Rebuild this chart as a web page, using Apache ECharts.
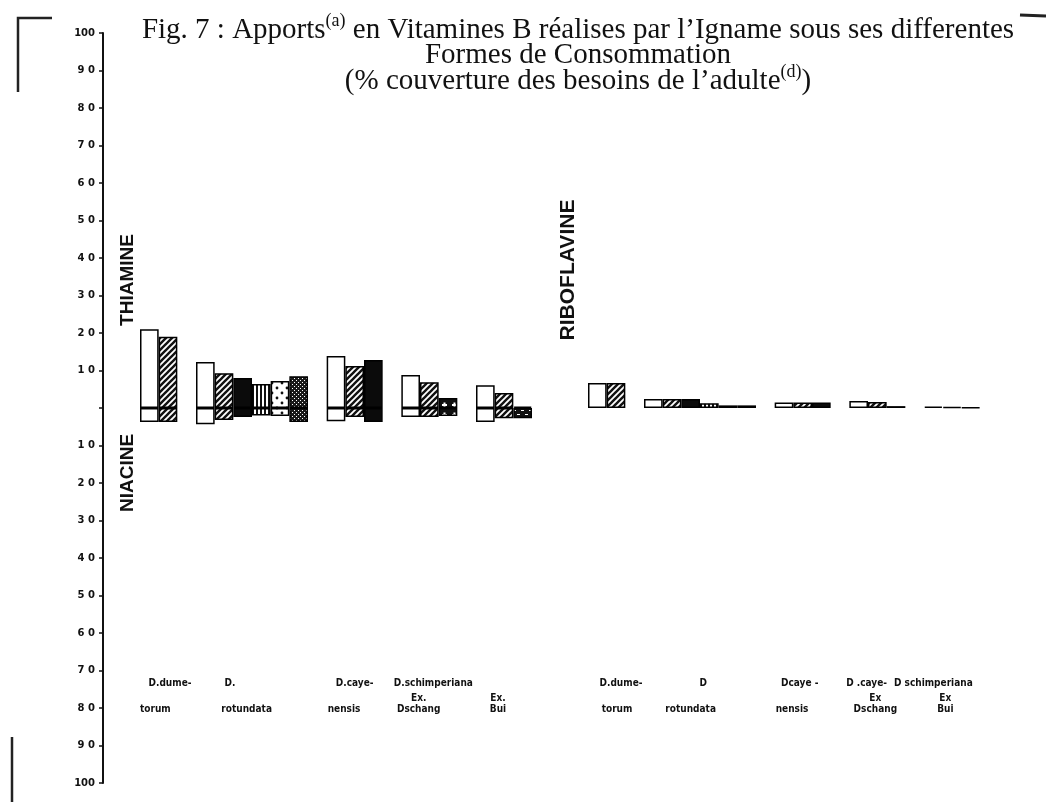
<!DOCTYPE html>
<html><head><meta charset="utf-8">
<script src="https://cdn.jsdelivr.net/npm/echarts@6/dist/echarts.min.js"></script>
<style>html,body{margin:0;padding:0;background:#fff}#c{width:1046px;height:802px}</style>
</head><body><div id="c"></div>
<script>
// ---- data (% of adult requirement) ----
const groupNames = ['D. dumetorum', 'D. rotundata', 'D. cayenensis', 'D. schimperiana Ex. Dschang', 'D. schimperiana Ex. Bui'];
// consumption-form index of each bar in each group (drives the fill pattern)
const groupForms = [[0, 1], [0, 1, 2, 3, 4, 5], [0, 1, 2], [0, 1, 6], [0, 1, 7]];
const thiamine = [[21, 19], [12.3, 9.3, 8, 6.4, 7.2, 8.5], [13.9, 11.2, 12.8], [8.8, 6.9, 2.7], [6.1, 4, 0.4]];
const niacine = [[3.7, 3.7], [4.3, 3.2, 2.4, 2, 2.1, 3.7], [3.5, 2.4, 3.7], [2.4, 2.4, 2.1], [3.7, 2.7, 2.7]];
const riboflavine = [[6.7, 6.7], [2.4, 2.4, 2.4, 1.3, 0.7, 0.7], [1.5, 1.5, 1.5], [1.9, 1.6, 0.5], [0.4, 0.3, 0.2]];
const yTicks = [-100, -90, -80, -70, -60, -50, -40, -30, -20, -10, 0, 10, 20, 30, 40, 50, 60, 70, 80, 90, 100];
// axis label texts, two printed lines per group
const leftLine1 = ['D.dume-', 'D.', 'D.caye-', 'D.schimperiana', ''];
const leftLine2 = ['torum', 'rotundata', 'nensis', 'Ex.\nDschang', 'Ex.\nBui'];
const rightLine1 = ['D.dume-', 'D', 'Dcaye -', 'D .caye-', 'D schimperiana'];
const rightLine2 = ['torum', 'rotundata', 'nensis', 'Ex\nDschang', 'Ex\nBui'];

// ---- layout constants (slot offset inside group, pixel nudge) ----
const line1Off = [1, 1, 1, 1, 0], line1Nudge = [2, 6, 0, 4, 0];
const line2Off = [0, 2, 0, 0, 1], line2Nudge = [6, 4, 8, 8, -6];
const rLine1Off = [1, 3, 1, 0, 0], rLine1Nudge = [5, -6, -3, 8, 0];
const rLine2Off = [1, 2, 0, 1, 0], rLine2Nudge = [1, 0, 8, -2, 12];

// ---- fill patterns ----
function pat(kind) {
  if (kind === 0) return '#ffffff';
  if (kind === 2) return '#0b0b0b';
  const c = document.createElement('canvas');
  let s = 6;
  if (kind === 3) s = 4; if (kind === 4) s = 10; if (kind === 5) s = 4; if (kind === 6) s = 10; if (kind === 7) s = 8;
  c.width = s; c.height = s;
  const g = c.getContext('2d');
  if (kind === 1) {
    g.fillStyle = '#fff'; g.fillRect(0, 0, s, s);
    g.strokeStyle = '#111'; g.lineWidth = 2.4;
    [[0, s, s, 0], [-2, 2, 2, -2], [s - 2, s + 2, s + 2, s - 2]].forEach(l => { g.beginPath(); g.moveTo(l[0], l[1]); g.lineTo(l[2], l[3]); g.stroke(); });
  } else if (kind === 3) {
    g.fillStyle = '#fff'; g.fillRect(0, 0, s, s);
    g.fillStyle = '#111'; g.fillRect(0, 0, 2, s);
  } else if (kind === 4) {
    g.fillStyle = '#fff'; g.fillRect(0, 0, s, s);
    g.fillStyle = '#111';
    [[2, 3], [7, 8]].forEach(p => { g.beginPath(); g.arc(p[0], p[1], 1.4, 0, Math.PI * 2); g.fill(); });
  } else if (kind === 5) {
    g.fillStyle = '#1a1a1a'; g.fillRect(0, 0, s, s);
    g.fillStyle = '#fff'; g.fillRect(0, 0, 1, 1); g.fillRect(2, 2, 1, 1);
  } else if (kind === 6) {
    g.fillStyle = '#111'; g.fillRect(0, 0, s, s);
    g.fillStyle = '#fff'; g.fillRect(2, 4, 5, 2); g.fillRect(3.5, 2.5, 2, 5);
  } else if (kind === 7) {
    g.fillStyle = '#111'; g.fillRect(0, 0, s, s);
    g.fillStyle = '#fff'; g.fillRect(1, 2, 3, 1); g.fillRect(5, 6, 3, 1);
  }
  return { image: c, repeat: 'repeat' };
}
const patterns = [0, 1, 2, 3, 4, 5, 6, 7].map(pat);

// ---- build slots (one category per bar, blank categories as gaps) ----
const slots = [];
const thiaData = [], niaData = [], riboData = [];
const l1 = {}, l2 = {};
function pushGap(n) { for (let k = 0; k < n; k++) { slots.push('gap' + slots.length); thiaData.push(null); niaData.push(null); riboData.push(null); } }
function addGroups(values, isRibo, line1, line2, o1, n1, o2, n2) {
  groupNames.forEach((name, gi) => {
    const start = slots.length;
    groupForms[gi].forEach((form, bi) => {
      slots.push((isRibo ? 'R ' : 'T ') + name + ' ' + bi);
      const st = { color: patterns[form] };
      if (isRibo) {
        riboData.push({ value: values[gi][bi], itemStyle: st });
        thiaData.push(null); niaData.push(null);
      } else {
        thiaData.push({ value: values[gi][bi], itemStyle: st });
        niaData.push({ value: -niacine[gi][bi], itemStyle: st });
        riboData.push(null);
      }
    });
    if (line1[gi]) l1[start + o1[gi]] = { text: line1[gi], nudge: n1[gi] };
    l2[start + o2[gi]] = { text: line2[gi], nudge: n2[gi] };
    if (gi < groupNames.length - 1) pushGap(1);
  });
}
addGroups(thiamine, false, leftLine1, leftLine2, line1Off, line1Nudge, line2Off, line2Nudge);
pushGap(3);
addGroups(riboflavine, true, rightLine1, rightLine2, rLine1Off, rLine1Nudge, rLine2Off, rLine2Nudge);

// rich styles for nudging labels horizontally
const labelFont = '"Liberation Sans Narrow", "DejaVu Sans Condensed", sans-serif';
const rich = {};
function richKey(n) { return 'n' + (n < 0 ? 'm' + (-n) : n); }
[line1Nudge, line2Nudge, rLine1Nudge, rLine2Nudge].forEach(a => a.forEach(n => {
  rich[richKey(n)] = {
    fontFamily: labelFont, fontWeight: 'bold', fontSize: 10, lineHeight: 11, color: '#111',
    padding: n >= 0 ? [0, 0, 0, 2 * n] : [0, -2 * n, 0, 0]
  };
}));

function labelAxis(map, offset, va) {
  return {
    type: 'category', data: slots, position: 'bottom', offset: offset,
    axisLine: { show: false, onZero: false }, axisTick: { show: false },
    axisLabel: {
      interval: 0, margin: 0, verticalAlign: va, align: 'center', rich: rich,
      formatter: (v, i) => {
        const e = map[i];
        if (!e) return '';
        const k = richKey(e.nudge);
        return e.text.split('\n').map(t => '{' + k + '|' + t + '}').join('\n');
      }
    }
  };
}

const chart = echarts.init(document.getElementById('c'), null, { renderer: 'canvas' });
const serifFont = '"Liberation Serif", "DejaVu Serif", serif';
chart.setOption({
  animation: false,
  backgroundColor: '#fff',
  title: {
    left: 573, top: 14, textAlign: 'center',
    text: '{m|Fig. 7 : Apports}{s|(a)}{m| en Vitamines B réalises par l\u2019Igname sous ses differentes}\n{m|Formes de Consommation}\n{m|(% couverture des besoins de l\u2019adulte}{s|(d)}{m|)}',
    textStyle: {
      fontWeight: 'normal',
      rich: {
        m: { fontFamily: serifFont, fontWeight: 'normal', fontSize: 29, lineHeight: 25.5, color: '#111', verticalAlign: 'bottom' },
        s: { fontFamily: serifFont, fontWeight: 'normal', fontSize: 18, lineHeight: 10, color: '#111', verticalAlign: 'bottom', padding: [0, 0, 14, 0] }
      }
    }
  },
  grid: { left: 140, right: 66, top: 33, bottom: 19 },
  xAxis: [
    { type: 'category', data: slots, axisLine: { show: false }, axisTick: { show: false }, axisLabel: { show: false }, splitLine: { show: false } },
    labelAxis(l1, -100, 'middle'),
    labelAxis(l2, -68, 'bottom')
  ],
  yAxis: {
    type: 'value', min: yTicks[0], max: yTicks[yTicks.length - 1], interval: 10, offset: 37,
    axisLine: { show: true, lineStyle: { color: '#111', width: 2 } },
    axisTick: { show: true, length: 4, lineStyle: { color: '#111', width: 1.5 } },
    splitLine: { show: false },
    axisLabel: {
      margin: 8, color: '#111', fontFamily: '"DejaVu Sans", sans-serif', fontWeight: 'bold', fontSize: 10,
      formatter: v => (v === 0 ? '' : (Math.abs(v) === 100 ? '100' : String(Math.abs(v)).split('').join(' ')))
    }
  },
  series: [
    { name: 'Thiamine', type: 'bar', stack: 'v', data: thiaData, barCategoryGap: '0%', itemStyle: { borderColor: '#000', borderWidth: 1.5 } },
    { name: 'Niacine', type: 'bar', stack: 'v', data: niaData, barCategoryGap: '0%', itemStyle: { borderColor: '#000', borderWidth: 1.5 } },
    { name: 'Riboflavine', type: 'bar', stack: 'v', data: riboData, barCategoryGap: '0%', itemStyle: { borderColor: '#000', borderWidth: 1.5 } }
  ],
  graphic: [
    { type: 'text', x: 128, y: 280, rotation: Math.PI / 2, style: { text: 'THIAMINE', font: 'bold 19px "Liberation Sans", sans-serif', fill: '#111', align: 'center', verticalAlign: 'middle' } },
    { type: 'text', x: 128, y: 473, rotation: Math.PI / 2, style: { text: 'NIACINE', font: 'bold 19px "Liberation Sans", sans-serif', fill: '#111', align: 'center', verticalAlign: 'middle' } },
    { type: 'text', x: 568, y: 270, rotation: Math.PI / 2, style: { text: 'RIBOFLAVINE', font: 'bold 21px "Liberation Sans", sans-serif', fill: '#111', align: 'center', verticalAlign: 'middle' } },
    { type: 'polyline', shape: { points: [[52, 18], [18, 18], [18, 92]] }, style: { stroke: '#222', lineWidth: 2.5, fill: null } },
    { type: 'line', shape: { x1: 12, y1: 737, x2: 12, y2: 802 }, style: { stroke: '#222', lineWidth: 2.5 } },
    { type: 'line', shape: { x1: 1020, y1: 15, x2: 1046, y2: 16 }, style: { stroke: '#222', lineWidth: 3 } }
  ]
});
</script>
</body></html>
